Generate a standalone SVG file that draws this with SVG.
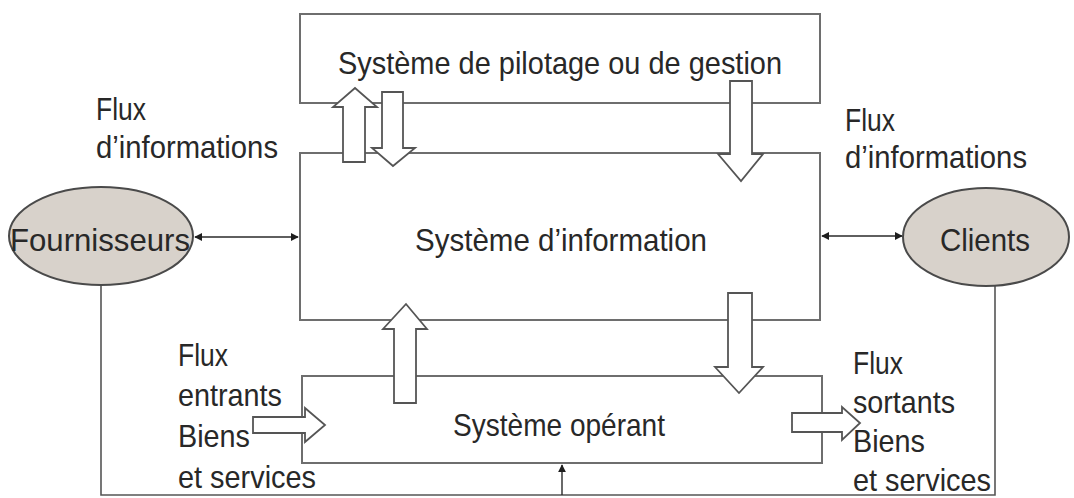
<svg xmlns="http://www.w3.org/2000/svg" width="1074" height="498" viewBox="0 0 1074 498">
  <style>
    .box { fill: #ffffff; stroke: #6e6e6e; stroke-width: 2; }
    .actor { fill: #d8d2cb; stroke: #4a4a4a; stroke-width: 2; }
    .flow { fill: #ffffff; stroke: #555555; stroke-width: 1.8; stroke-linejoin: miter; }
    .link { fill: none; stroke: #2a2a2a; stroke-width: 1.4; }
    .wire { fill: none; stroke: #555555; stroke-width: 1.6; }
    text { font-family: "Liberation Sans", Arial, sans-serif; font-size: 32px; fill: #282828; }
    .mid { text-anchor: middle; }
  </style>
  <defs>
    <marker id="tip" viewBox="0 0 10 10" refX="9" refY="5" markerWidth="8" markerHeight="8" markerUnits="userSpaceOnUse" orient="auto-start-reverse">
      <path d="M0,0 L10,5 L0,10 z" fill="#1e1e1e"/>
    </marker>
  </defs>

  <rect width="1074" height="498" fill="#ffffff"/>

  <!-- external link loop under the operating system -->
  <g id="connectors">
    <polyline class="wire" points="101,285 101,495 995,495 995,286"/>
    <line class="link" x1="562" y1="495" x2="562" y2="465" marker-end="url(#tip)"/>
    <line class="link" x1="195" y1="237" x2="298" y2="237" marker-start="url(#tip)" marker-end="url(#tip)"/>
    <line class="link" x1="822" y1="236" x2="902" y2="236" marker-start="url(#tip)" marker-end="url(#tip)"/>
  </g>

  <g id="pilotage">
    <rect class="box" x="300" y="14" width="520" height="89"/>
    <text class="mid" x="560" y="74" textLength="444" lengthAdjust="spacingAndGlyphs">Système de pilotage ou de gestion</text>
  </g>

  <g id="information">
    <rect class="box" x="300" y="153" width="520" height="167"/>
    <text class="mid" x="561" y="251" textLength="292" lengthAdjust="spacingAndGlyphs">Système d’information</text>
  </g>

  <g id="operant">
    <rect class="box" x="302" y="376" width="520" height="87"/>
    <text class="mid" x="559" y="436" textLength="212" lengthAdjust="spacingAndGlyphs">Système opérant</text>
  </g>

  <g id="fournisseurs">
    <ellipse class="actor" cx="101" cy="236" rx="92" ry="49"/>
    <text class="mid" x="100" y="251" textLength="180" lengthAdjust="spacingAndGlyphs">Fournisseurs</text>
  </g>

  <g id="clients">
    <ellipse class="actor" cx="986" cy="237" rx="83" ry="49"/>
    <text class="mid" x="985" y="251" textLength="90" lengthAdjust="spacingAndGlyphs">Clients</text>
  </g>

  <!-- broad flow arrows between the three systems -->
  <g id="flows">
    <polygon class="flow" points="343,162 343,107 333,107 355,88 377,107 365,107 365,162"/>
    <polygon class="flow" points="382,92 403,92 403,148 415,148 393,166 372,148 382,148"/>
    <polygon class="flow" points="730,81 752,81 752,154 763,154 741,181 718,154 730,154"/>
    <polygon class="flow" points="394,403 394,329 383,329 406,304 427,329 416,329 416,403"/>
    <polygon class="flow" points="728,293 752,293 752,367 763,367 739,393 715,367 728,367"/>
    <polygon class="flow" points="253,417 305,417 305,408 325,425 305,442 305,433 253,433"/>
    <polygon class="flow" points="792,413 842,413 842,407 860,423 842,440 842,432 792,432"/>
  </g>

  <g id="labels">
    <text x="96" y="120" textLength="50" lengthAdjust="spacingAndGlyphs">Flux</text>
    <text x="96" y="158" textLength="182" lengthAdjust="spacingAndGlyphs">d’informations</text>
    <text x="845" y="131" textLength="50" lengthAdjust="spacingAndGlyphs">Flux</text>
    <text x="845" y="168" textLength="182" lengthAdjust="spacingAndGlyphs">d’informations</text>
    <text x="178" y="366" textLength="50" lengthAdjust="spacingAndGlyphs">Flux</text>
    <text x="178" y="406" textLength="104" lengthAdjust="spacingAndGlyphs">entrants</text>
    <text x="178" y="447" textLength="72" lengthAdjust="spacingAndGlyphs">Biens</text>
    <text x="178" y="488" textLength="138" lengthAdjust="spacingAndGlyphs">et services</text>
    <text x="853" y="374" textLength="50" lengthAdjust="spacingAndGlyphs">Flux</text>
    <text x="853" y="413" textLength="102" lengthAdjust="spacingAndGlyphs">sortants</text>
    <text x="853" y="452" textLength="72" lengthAdjust="spacingAndGlyphs">Biens</text>
    <text x="853" y="491" textLength="138" lengthAdjust="spacingAndGlyphs">et services</text>
  </g>
</svg>
